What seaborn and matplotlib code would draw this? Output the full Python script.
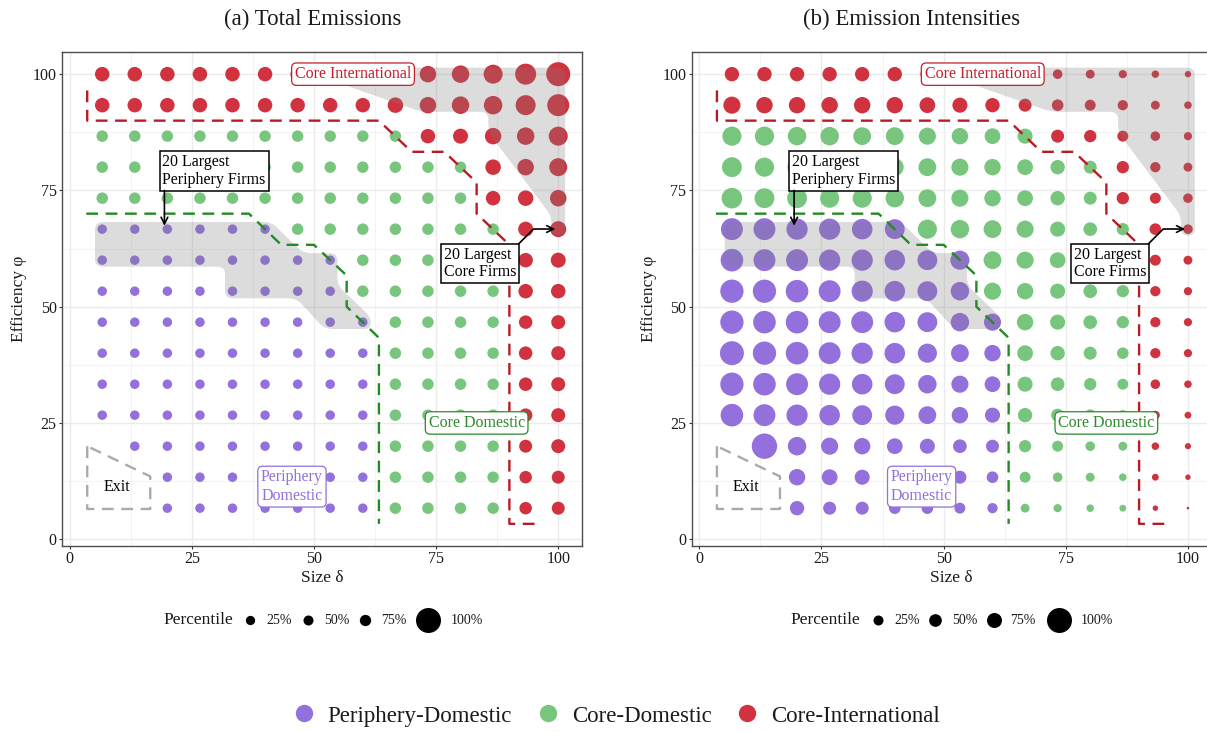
import numpy as np
import pandas as pd
import matplotlib
matplotlib.use("Agg")
import matplotlib.pyplot as plt
from matplotlib.path import Path
from matplotlib.patches import PathPatch
from matplotlib.lines import Line2D
import seaborn as sns

sns.set_theme(style="white")
plt.rcParams["font.family"] = ["Liberation Serif", "DejaVu Serif"]

# ---------------------------------------------------------------- data
size_delta = [6.67, 13.33, 20.0, 26.67, 33.33, 40.0, 46.67, 53.33,
              60.0, 66.67, 73.33, 80.0, 86.67, 93.33, 100.0]
eff_phi = [6.67, 13.33, 20.0, 26.67, 33.33, 40.0, 46.67, 53.33,
           60.0, 66.67, 73.33, 80.0, 86.67, 93.33, 100.0]

# firm type per cell, rows from phi = 100 down to phi = 6.67
# P = periphery-domestic, G = core-domestic, R = core-international, . = exit
group_rows = [
    "RRRRRRRRRRRRRRR",
    "RRRRRRRRRRRRRRR",
    "GGGGGGGGGGRRRRR",
    "GGGGGGGGGGGGRRR",
    "GGGGGGGGGGGGRRR",
    "PPPPPPGGGGGGGRR",
    "PPPPPPPPGGGGGRR",
    "PPPPPPPPGGGGGRR",
    "PPPPPPPPPGGGGRR",
    "PPPPPPPPPGGGGRR",
    "PPPPPPPPPGGGGRR",
    "PPPPPPPPPGGGGRR",
    ".PPPPPPPPGGGGRR",
    "..PPPPPPPGGGGRR",
    "..PPPPPPPGGGGRR",
]

# total emissions per cell (same row order)
total_rows = [
    [210, 210, 210, 210, 210, 210, 210, 210, 225, 240, 272, 306, 361, 441, 576],
    [210, 210, 210, 210, 210, 210, 210, 210, 210, 240, 272, 306, 342, 400, 484],
    [132, 132, 132, 132, 132, 132, 132, 132, 132, 132, 210, 225, 272, 306, 361],
    [132, 132, 132, 132, 132, 132, 132, 132, 132, 132, 132, 132, 240, 272, 324],
    [132, 132, 132, 132, 132, 132, 132, 132, 132, 132, 132, 132, 210, 240, 272],
    [90, 90, 90, 90, 90, 90, 132, 132, 132, 132, 132, 132, 132, 225, 256],
    [90, 90, 90, 90, 90, 90, 90, 90, 132, 132, 132, 132, 132, 210, 225],
    [90, 90, 90, 90, 90, 90, 90, 90, 132, 132, 132, 132, 132, 210, 210],
    [90, 90, 90, 90, 90, 90, 90, 90, 90, 132, 132, 132, 132, 182, 196],
    [90, 90, 90, 90, 90, 90, 90, 90, 90, 132, 132, 132, 132, 182, 196],
    [90, 90, 90, 90, 90, 90, 90, 90, 90, 132, 132, 132, 132, 182, 196],
    [90, 90, 90, 90, 90, 90, 90, 90, 90, 132, 132, 132, 132, 182, 196],
    [None, 90, 90, 90, 90, 90, 90, 90, 90, 132, 132, 132, 132, 169, 196],
    [None, None, 90, 90, 90, 90, 90, 90, 90, 132, 132, 132, 132, 156, 169],
    [None, None, 90, 90, 90, 90, 90, 90, 90, 132, 132, 132, 132, 156, 169],
]

# emission intensities per cell (same row order)
intensity_rows = [
    [206, 206, 206, 206, 206, 206, 190, 175, 160, 140, 92, 79, 67, 55, 40],
    [293, 270, 270, 270, 270, 270, 248, 227, 206, 169, 135, 120, 105, 79, 57],
    [367, 367, 341, 341, 317, 317, 293, 270, 248, 227, 169, 152, 120, 92, 67],
    [394, 367, 367, 341, 341, 317, 317, 293, 270, 248, 206, 169, 152, 105, 79],
    [422, 394, 394, 367, 367, 341, 317, 293, 270, 248, 206, 169, 152, 120, 92],
    [480, 480, 450, 450, 422, 394, 367, 341, 317, 293, 227, 187, 152, 135, 92],
    [510, 480, 480, 450, 450, 422, 394, 367, 317, 293, 248, 187, 169, 120, 79],
    [542, 542, 510, 480, 450, 422, 394, 341, 293, 270, 227, 187, 152, 105, 67],
    [542, 510, 510, 480, 480, 422, 394, 341, 293, 270, 227, 187, 152, 105, 67],
    [574, 542, 510, 480, 450, 422, 367, 317, 270, 248, 206, 169, 135, 105, 67],
    [542, 510, 480, 450, 422, 394, 341, 293, 248, 227, 187, 152, 120, 92, 57],
    [510, 480, 450, 422, 394, 367, 317, 270, 227, 206, 169, 135, 105, 79, 47],
    [None, 642, 341, 293, 270, 248, 227, 187, 169, 152, 120, 92, 79, 57, 38],
    [None, None, 270, 248, 227, 206, 187, 169, 135, 120, 92, 79, 57, 47, 30],
    [None, None, 206, 169, 169, 135, 135, 120, 105, 79, 67, 57, 47, 30, 7],
]

percentile_labels = ["25%", "50%", "75%", "100%"]
percentile_levels_total = [86, 100, 128, 625]
percentile_levels_intensity = [100, 161, 225, 625]

group_names = {"P": "Periphery-Domestic", "G": "Core-Domestic", "R": "Core-International"}
group_order = ["Periphery-Domestic", "Core-Domestic", "Core-International"]
palette = {"Periphery-Domestic": "#9370DB",
           "Core-Domestic": "#78C67E",
           "Core-International": "#D0333F"}

# region boundaries (data units)
core_int_border = [(3.6, 96.5), (3.6, 90.0), (63.3, 90.0), (70.0, 83.3), (76.7, 83.3),
                   (83.3, 76.7), (83.3, 70.0), (90.0, 63.3), (90.0, 3.3), (96.7, 3.3)]
core_dom_border = [(3.4, 70.0), (36.7, 70.0), (43.3, 63.3), (50.0, 63.3), (56.7, 56.7),
                   (56.7, 50.0), (63.3, 43.3), (63.3, 3.3)]
exit_border = [(3.6, 20.0), (3.6, 6.5), (16.5, 6.5), (16.5, 13.5), (3.6, 20.0)]

# outlines of the 20 largest firms of each type
periphery_top20 = [(5.2, 68.2), (41.3, 68.2), (47.8, 61.5), (54.8, 61.5), (54.8, 54.6),
                   (61.6, 47.8), (61.6, 45.2), (52.2, 45.2), (46.4, 51.8), (31.8, 51.8),
                   (31.8, 58.6), (5.2, 58.6)]
core_top20 = [(46.0, 101.4), (101.4, 101.4), (101.4, 65.3), (98.6, 65.3), (98.6, 69.5),
              (85.7, 87.5), (85.7, 91.9), (72.0, 91.9)]

# ---------------------------------------------------------------- helpers
SIZE_NORM = (0, 1000)
SIZE_RANGE = (0, 518.4)
INK = "#1A1A1A"


def long_frame(values):
    recs = []
    n = len(eff_phi)
    for r, (codes, vals) in enumerate(zip(group_rows, values)):
        phi = eff_phi[n - 1 - r]
        for c, (code, v) in enumerate(zip(codes, vals)):
            if code == "." or v is None:
                continue
            recs.append((size_delta[c], phi, group_names[code], v))
    return pd.DataFrame(recs, columns=["delta", "phi", "group", "value"])


def rounded_patch(verts, radius, **kw):
    verts = np.asarray(verts, float)
    n = len(verts)
    pts, codes = [], []
    for k in range(n):
        p0, p1, p2 = verts[k - 1], verts[k], verts[(k + 1) % n]
        d1, d2 = p0 - p1, p2 - p1
        l1, l2 = np.hypot(*d1), np.hypot(*d2)
        rr = min(radius, l1 / 2, l2 / 2)
        a = p1 + d1 / l1 * rr
        b = p1 + d2 / l2 * rr
        pts += [a, p1, b]
        codes += [Path.MOVETO if k == 0 else Path.LINETO, Path.CURVE3, Path.CURVE3]
    pts.append(pts[0])
    codes.append(Path.CLOSEPOLY)
    return PathPatch(Path(pts, codes), **kw)


def marker_diam(v):
    s = SIZE_RANGE[0] + (v - SIZE_NORM[0]) / (SIZE_NORM[1] - SIZE_NORM[0]) * (SIZE_RANGE[1] - SIZE_RANGE[0])
    return np.sqrt(s)


def draw_panel(ax, values):
    df = long_frame(values)
    sns.scatterplot(data=df, x="delta", y="phi", hue="group", hue_order=group_order,
                    palette=palette, size="value", sizes=SIZE_RANGE, size_norm=SIZE_NORM,
                    linewidth=0, legend=False, ax=ax, zorder=3)

    for shape in (periphery_top20, core_top20):
        ax.add_patch(rounded_patch(shape, 1.6, facecolor="#7F7F7F", alpha=0.27,
                                   edgecolor="none", zorder=4))

    dash = (0, (5, 3.2))
    for pts, col in ((core_int_border, "#B71C24"), (core_dom_border, "#238B23"),
                     (exit_border, "#AAAAAA")):
        xs, ys = zip(*pts)
        ax.plot(xs, ys, color=col, lw=1.7, linestyle=dash, zorder=5,
                dash_capstyle="butt")

    box_kw = dict(boxstyle="round,pad=0.2,rounding_size=0.3", fc="white", lw=0.9)
    ax.text(58.0, 100.0, "Core International", color="#C41E2A", ha="center", va="center",
            fontsize=11.5, zorder=7, bbox=dict(ec="#C41E2A", **box_kw))
    ax.text(83.3, 25.0, "Core Domestic", color="#2A8A2A", ha="center", va="center",
            fontsize=11.5, zorder=7, bbox=dict(ec="#2A8A2A", **box_kw))
    ax.text(45.5, 11.3, "Periphery\nDomestic", color="#9370DB", ha="center", va="center",
            fontsize=11.5, zorder=7, linespacing=1.2, bbox=dict(ec="#9370DB", **box_kw))
    ax.text(9.6, 11.3, "Exit", color="black", ha="center", va="center",
            fontsize=11.5, zorder=7)

    frame_kw = dict(boxstyle="square,pad=0.18", fc="white", ec="black", lw=1.1)
    ax.text(19.0, 79.2, "20 Largest\nPeriphery Firms", color="black", ha="left",
            va="center", fontsize=11.5, zorder=7, linespacing=1.15, bbox=frame_kw)
    ax.annotate("", xy=(19.4, 67.4), xytext=(19.4, 75.0), zorder=7,
                arrowprops=dict(arrowstyle="->", color="black", lw=1.2,
                                shrinkA=0, shrinkB=0))
    ax.text(76.6, 59.3, "20 Largest\nCore Firms", color="black", ha="left",
            va="center", fontsize=11.5, zorder=7, linespacing=1.15, bbox=frame_kw)
    ax.annotate("", xy=(99.4, 66.7), xytext=(91.8, 63.4), zorder=6,
                arrowprops=dict(arrowstyle="->", color="black", lw=1.2,
                                shrinkA=0, shrinkB=0,
                                connectionstyle="angle,angleA=45,angleB=0,rad=0"))

    ax.set_xlim(-1.5, 104.8)
    ax.set_ylim(-1.4, 104.7)
    ticks = [0, 25, 50, 75, 100]
    ax.set_xticks(ticks)
    ax.set_yticks(ticks)
    ax.set_xticks([12.5, 37.5, 62.5, 87.5], minor=True)
    ax.set_yticks([12.5, 37.5, 62.5, 87.5], minor=True)
    ax.grid(which="major", color="#EBEBEB", lw=1.0, zorder=0)
    ax.grid(which="minor", color="#F1F1F1", lw=0.6, zorder=0)
    ax.set_axisbelow(True)
    ax.tick_params(which="major", direction="out", length=2.5, width=0.8, color="#333333",
                   labelsize=11.5, labelcolor=INK, pad=1.5, bottom=True, left=True)
    ax.tick_params(which="minor", length=0)
    for sp in ax.spines.values():
        sp.set_color("#4D4D4D")
        sp.set_linewidth(1.0)
    ax.set_xlabel("Size δ", fontsize=12.5, labelpad=2, color=INK)
    ax.set_ylabel("Efficiency φ", fontsize=12.5, labelpad=4, color=INK)


def size_key(fig, levels, x_title, circle_xs, text_xs, y):
    """Percentile key for the point-size scale, laid out in figure pixels."""
    W, H = fig.bbox.width, fig.bbox.height
    yf = 1 - y / H
    fig.text(x_title / W, yf, "Percentile", ha="left", va="center", fontsize=12.5, color=INK)
    for v, lab, cx, tx in zip(levels, percentile_labels, circle_xs, text_xs):
        fig.add_artist(Line2D([cx / W], [yf], transform=fig.transFigure, ls="",
                              marker="o", color="black", markeredgewidth=0,
                              markersize=marker_diam(v)))
        fig.text(tx / W, yf, lab, ha="left", va="center", fontsize=10, color=INK)


# ---------------------------------------------------------------- figure
W, H = 1207, 732
fig = plt.figure(figsize=(W / 100, H / 100), dpi=100)
fig.patch.set_facecolor("white")

ax_w, ax_h = 519.4 / W, 493.4 / H
ax_bot = (H - 545.7) / H
ax_a = fig.add_axes([62.3 / W, ax_bot, ax_w, ax_h])
ax_b = fig.add_axes([692.0 / W, ax_bot, ax_w, ax_h])

draw_panel(ax_a, total_rows)
draw_panel(ax_b, intensity_rows)

fig.text(313 / W, 1 - 19 / H, "(a) Total Emissions", ha="center", va="center",
         fontsize=16.5, color=INK)
fig.text(912 / W, 1 - 19 / H, "(b) Emission Intensities", ha="center", va="center",
         fontsize=16.5, color=INK)

size_key(fig, percentile_levels_total, 163, [250, 308, 365, 428], [266, 324, 381, 451], 620)
size_key(fig, percentile_levels_intensity, 790, [878, 935, 994, 1059], [894, 952, 1010, 1081], 620)

group_handles = [Line2D([], [], ls="", marker="o", markersize=12.5, markeredgewidth=0,
                        color=palette[g]) for g in group_order]
leg2 = fig.legend(group_handles, group_order, loc="center",
                  bbox_to_anchor=(616 / W, 1 - 716 / H), ncol=3, frameon=False,
                  fontsize=16.5, handlelength=1.0, handletextpad=0.55,
                  columnspacing=1.05, borderpad=0)
for t in leg2.get_texts():
    t.set_color(INK)

fig.savefig("out.png", dpi=100, facecolor="white")
